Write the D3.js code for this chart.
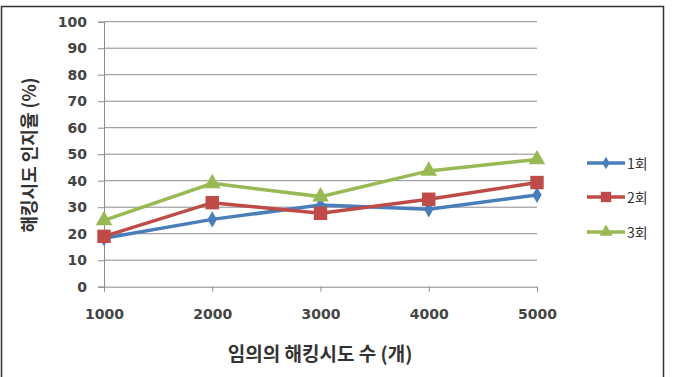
<!DOCTYPE html>
<html>
<head>
<meta charset="utf-8">
<script src="https://cdn.jsdelivr.net/npm/d3@7"></script>
<style>
  body { margin: 0; background: #fff; }
  text { font-family: "Noto Sans CJK KR", "DejaVu Sans", sans-serif; }
</style>
</head>
<body>
<svg id="chart"></svg>
<script>
const svg = d3.select("#chart").attr("width", 673).attr("height", 377);

// data
const categories = [1000, 2000, 3000, 4000, 5000];
const yTicks = [0, 10, 20, 30, 40, 50, 60, 70, 80, 90, 100];
const seriesNames = ["1회", "2회", "3회"];
const round1 = [18.3, 25.4, 30.8, 29.2, 34.6];
const round2 = [19, 31.7, 27.7, 33, 39.3];
const round3 = [25, 39, 34, 43.7, 48];
const seriesValues = [round1, round2, round3];
const colors = ["#4a7ebb", "#be4b48", "#98b954"];

// frame
svg.append("rect")
  .attr("x", 1.5).attr("y", 6.5)
  .attr("width", 662).attr("height", 380)
  .attr("fill", "#fff")
  .attr("stroke", "#333")
  .attr("stroke-width", 1.5);

const x = d3.scalePoint().domain(categories).range([104, 537]);
const y = d3.scaleLinear().domain([0, 100]).range([286.7, 21.7]);

// gridlines
svg.selectAll("line.grid")
  .data(yTicks.filter(d => d > 0))
  .enter().append("line")
  .attr("class", "grid")
  .attr("x1", 104).attr("x2", 537)
  .attr("y1", d => y(d)).attr("y2", d => y(d))
  .attr("stroke", "#8c8c8c").attr("stroke-width", 1);

// y axis
const yAxis = svg.append("g")
  .attr("transform", "translate(104,0)")
  .call(d3.axisLeft(y).tickValues(yTicks).tickSize(6).tickPadding(11));
yAxis.select(".domain").attr("stroke", "#8c8c8c");
yAxis.selectAll(".tick line").attr("stroke", "#8c8c8c");
yAxis.selectAll(".tick text")
  .attr("font-size", 14).attr("font-weight", "bold").attr("fill", "#444")
  .style("font-family", "'DejaVu Sans', sans-serif");

// x axis
const xAxis = svg.append("g")
  .attr("transform", "translate(0,286.7)")
  .call(d3.axisBottom(x).tickSize(5).tickPadding(17));
xAxis.select(".domain").attr("stroke", "#8c8c8c");
xAxis.selectAll(".tick line").attr("stroke", "#8c8c8c");
xAxis.selectAll(".tick text")
  .attr("font-size", 14).attr("font-weight", "bold").attr("fill", "#444")
  .style("font-family", "'DejaVu Sans', sans-serif");

// axis titles
svg.append("text")
  .attr("transform", "translate(36,155) rotate(-90)")
  .attr("text-anchor", "middle")
  .attr("font-size", 18).attr("font-weight", "bold").attr("fill", "#333")
  .text("해킹시도 인지율 (%)");

svg.append("text")
  .attr("x", 320).attr("y", 361)
  .attr("text-anchor", "middle")
  .attr("font-size", 19).attr("font-weight", "bold").attr("fill", "#333")
  .text("임의의 해킹시도 수 (개)");

// lines and markers
const line = d3.line()
  .x((d, i) => x(categories[i]))
  .y(d => y(d));

const symbols = [d3.symbolDiamond, d3.symbolSquare, d3.symbolTriangle];
const symSizes = [75, 180, 120];

seriesValues.forEach((vals, s) => {
  svg.append("path")
    .datum(vals)
    .attr("d", line)
    .attr("fill", "none")
    .attr("stroke", colors[s])
    .attr("stroke-width", 3.5);
  svg.selectAll("path.m" + s)
    .data(vals)
    .enter().append("path")
    .attr("class", "m" + s)
    .attr("transform", (d, i) => `translate(${x(categories[i])},${y(d)})`)
    .attr("d", d3.symbol().type(symbols[s]).size(symSizes[s]))
    .attr("fill", colors[s]);
});

// legend
const legendY = [163, 197, 232];
seriesNames.forEach((name, s) => {
  const g = svg.append("g").attr("transform", `translate(587,${legendY[s]})`);
  g.append("line")
    .attr("x1", 0).attr("x2", 38)
    .attr("stroke", colors[s]).attr("stroke-width", 3.5);
  g.append("path")
    .attr("transform", "translate(19,0)")
    .attr("d", d3.symbol().type(symbols[s]).size(symSizes[s] * 0.6))
    .attr("fill", colors[s]);
  g.append("text")
    .attr("x", 40).attr("y", 6)
    .attr("font-size", 14).attr("fill", "#333")
    .text(name);
});
</script>
</body>
</html>
